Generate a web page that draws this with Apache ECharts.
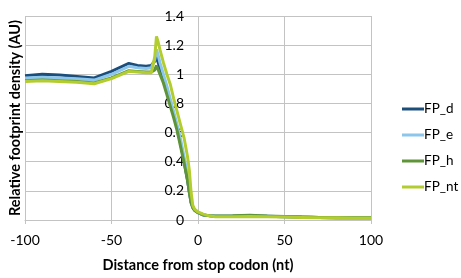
<!DOCTYPE html>
<html>
<head>
<meta charset="utf-8">
<script src="https://cdn.jsdelivr.net/npm/echarts@6/dist/echarts.min.js"></script>
<style>
  html, body { margin: 0; padding: 0; background: #fff; }
  #chart { width: 461px; height: 278px; }
</style>
</head>
<body>
<div id="chart"></div>
<script>
// distance from stop codon (nt), shared by all series
const distance = [-100, -90, -80, -70, -60, -50, -40, -35, -30, -27, -26, -25, -24, -23, -22, -20, -18, -16, -14, -12, -10, -8, -6, -5, -4, -3, -2, 0, 3, 6, 10, 20, 30, 40, 50, 60, 70, 80, 90, 100]

const fpD = [0.99, 1.0, 0.995, 0.985, 0.975, 1.02, 1.075, 1.06, 1.055, 1.06, 1.065, 1.09, 1.12, 1.08, 1.04, 0.97, 0.89, 0.8, 0.72, 0.63, 0.52, 0.4, 0.27, 0.19, 0.12, 0.085, 0.07, 0.05, 0.035, 0.03, 0.025, 0.025, 0.028, 0.025, 0.022, 0.02, 0.018, 0.016, 0.015, 0.015]
const fpE = [0.975, 0.98, 0.975, 0.97, 0.96, 1.0, 1.055, 1.045, 1.04, 1.045, 1.05, 1.1, 1.17, 1.13, 1.08, 1.0, 0.92, 0.83, 0.74, 0.65, 0.55, 0.43, 0.3, 0.21, 0.13, 0.09, 0.07, 0.05, 0.035, 0.03, 0.025, 0.025, 0.027, 0.025, 0.022, 0.02, 0.018, 0.016, 0.015, 0.015]
const fpH = [0.955, 0.96, 0.955, 0.95, 0.94, 0.975, 1.025, 1.02, 1.015, 1.015, 1.02, 1.03, 1.06, 1.05, 1.0, 0.94, 0.86, 0.78, 0.7, 0.61, 0.5, 0.39, 0.27, 0.19, 0.12, 0.085, 0.065, 0.05, 0.035, 0.03, 0.028, 0.03, 0.033, 0.028, 0.024, 0.02, 0.018, 0.016, 0.015, 0.015]
const fpNt = [0.95, 0.955, 0.95, 0.945, 0.935, 0.97, 1.02, 1.015, 1.01, 1.01, 1.02, 1.12, 1.26, 1.22, 1.17, 1.08, 1.0, 0.93, 0.83, 0.74, 0.65, 0.56, 0.43, 0.34, 0.19, 0.1, 0.075, 0.055, 0.04, 0.03, 0.022, 0.022, 0.024, 0.022, 0.02, 0.018, 0.016, 0.015, 0.014, 0.014]

const seriesNames = ['FP_d', 'FP_e', 'FP_h', 'FP_nt']
const seriesColors = ['#1c4e7c', '#8cc6ec', '#5f9538', '#b3cc2e']
const seriesValues = [fpD, fpE, fpH, fpNt]

const FONT = 'Lato, "Noto Sans", sans-serif'
const GRID_COLOR = '#c3c3c3'

const chart = echarts.init(document.getElementById('chart'))

chart.setOption({
  animation: false,
  textStyle: { fontFamily: FONT },
  grid: { left: 23, right: 90, top: 16, bottom: 51 },
  legend: {
    orient: 'vertical',
    left: 397,
    top: 97,
    itemWidth: 22,
    itemHeight: 3,
    itemGap: 12,
    icon: 'rect',
    textStyle: { fontSize: 13.5, color: '#000', fontFamily: FONT, padding: [0, 0, 0, -5] },
    data: seriesNames
  },
  xAxis: {
    type: 'value',
    min: -100,
    max: 100,
    interval: 50,
    name: 'Distance from stop codon (nt)',
    nameLocation: 'middle',
    nameGap: 38,
    nameTextStyle: { fontSize: 14.5, fontWeight: 'bold', color: '#000' },
    axisLine: { show: true, lineStyle: { color: GRID_COLOR } },
    axisTick: { show: true, length: 4, lineStyle: { color: GRID_COLOR } },
    axisLabel: { fontSize: 14, color: '#000', margin: 13 },
    splitLine: { show: true, lineStyle: { color: GRID_COLOR } }
  },
  yAxis: {
    type: 'value',
    min: 0,
    max: 1.4,
    interval: 0.2,
    offset: -165,
    name: 'Relative footprint density (AU)',
    nameLocation: 'middle',
    nameGap: 167,
    nameTextStyle: { fontSize: 14.5, fontWeight: 'bold', color: '#000' },
    axisLine: { show: false },
    axisTick: { show: false },
    axisLabel: { fontSize: 14, color: '#000', margin: 6 },
    splitLine: { show: true, lineStyle: { color: GRID_COLOR } }
  },
  series: seriesNames.map((name, i) => ({
    name,
    type: 'line',
    showSymbol: false,
    symbol: 'none',
    lineStyle: { width: 3, color: seriesColors[i] },
    itemStyle: { color: seriesColors[i] },
    data: distance.map((d, j) => [d, seriesValues[i][j]])
  }))
})
</script>
</body>
</html>
